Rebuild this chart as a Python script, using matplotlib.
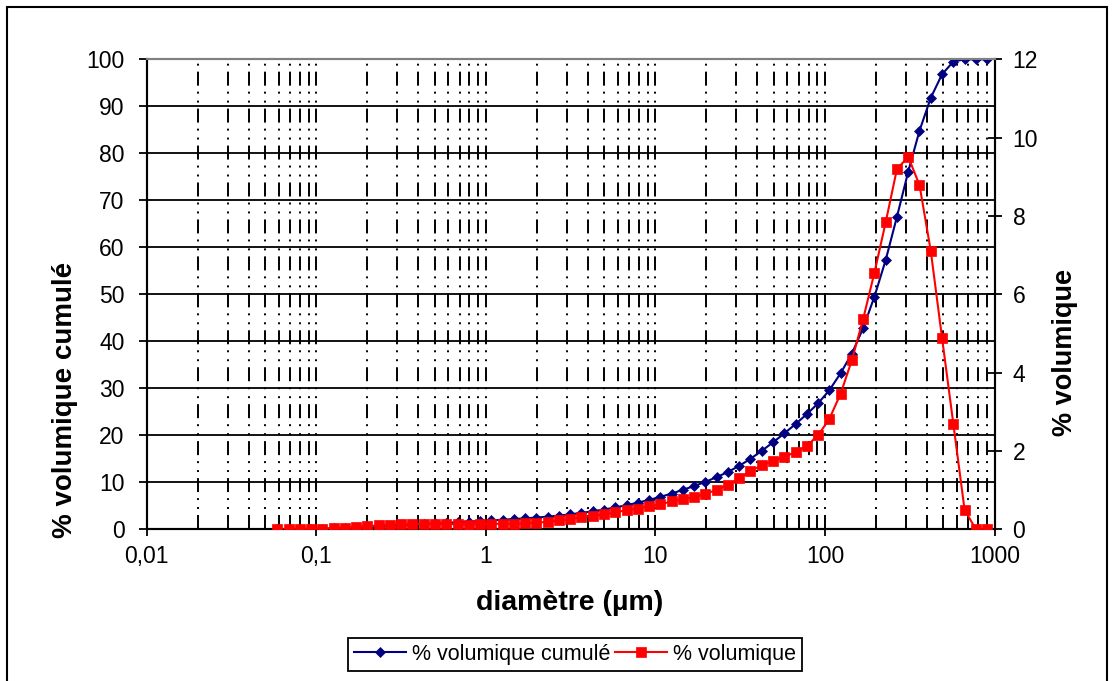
import matplotlib
matplotlib.use('Agg')
import matplotlib.pyplot as plt
import matplotlib.ticker as ticker
from matplotlib.patches import Rectangle

plt.rcParams['font.family'] = ['Liberation Sans', 'DejaVu Sans']

# particle size classes (um)
diametre = [0.0589, 0.0686, 0.0800, 0.0932, 0.1086, 0.1265, 0.1475, 0.1718, 0.2002, 0.2334,
            0.2720, 0.3170, 0.3694, 0.4304, 0.5016, 0.5845, 0.6811, 0.7937, 0.9250, 1.078,
            1.256, 1.464, 1.706, 1.988, 2.317, 2.700, 3.146, 3.666, 4.272, 4.979,
            5.801, 6.761, 7.878, 9.181, 10.70, 12.47, 14.53, 16.93, 19.73, 22.99,
            26.79, 31.22, 36.38, 42.40, 49.41, 57.58, 67.10, 78.19, 91.12, 106.2,
            123.7, 144.2, 168.0, 195.8, 228.2, 265.9, 309.9, 361.1, 420.8, 490.4,
            571.5, 666.0, 776.1, 904.4]

# % volumique cumule (left axis)
cumule = [0.0, 0.02, 0.05, 0.09, 0.14, 0.20, 0.27, 0.36, 0.46, 0.57,
          0.69, 0.82, 0.96, 1.10, 1.24, 1.37, 1.50, 1.62, 1.75, 1.89,
          2.03, 2.18, 2.33, 2.50, 2.69, 2.92, 3.18, 3.49, 3.83, 4.21,
          4.64, 5.13, 5.66, 6.25, 6.9, 7.6, 8.4, 9.2, 10.1, 11.1,
          12.2, 13.5, 15.0, 16.7, 18.5, 20.4, 22.4, 24.5, 26.8, 29.6,
          33.2, 37.4, 42.8, 49.5, 57.3, 66.5, 76.1, 84.8, 91.8, 96.8,
          99.5, 100, 100, 100]

# % volumique (right axis)
volumique = [0.00, 0.00, 0.01, 0.01, 0.01, 0.03, 0.04, 0.07, 0.08, 0.10,
             0.12, 0.13, 0.14, 0.14, 0.14, 0.13, 0.13, 0.12, 0.13, 0.14,
             0.14, 0.14, 0.15, 0.17, 0.19, 0.23, 0.26, 0.31, 0.34, 0.38,
             0.43, 0.49, 0.53, 0.59, 0.64, 0.71, 0.77, 0.82, 0.90, 1.01,
             1.13, 1.30, 1.49, 1.63, 1.75, 1.85, 1.97, 2.13, 2.40, 2.82,
             3.46, 4.32, 5.37, 6.55, 7.84, 9.20, 9.51, 8.79, 7.11, 4.89,
             2.70, 0.50, 0.00, 0.00]

x_ticks = [0.01, 0.1, 1, 10, 100, 1000]
y1_ticks = list(range(0, 101, 10))
y2_ticks = list(range(0, 13, 2))

W, H = 1115, 681
fig = plt.figure(figsize=(W / 100, H / 100), dpi=100)
ax1 = fig.add_axes([146.7 / W, 1 - 529.3 / H, (994.5 - 146.7) / W, 470 / H])
ax2 = ax1.twinx()

l1, = ax1.plot(diametre, cumule, color='#000080', lw=1.5, marker='D', ms=5.5,
               mec='#000080', mew=0.5, zorder=3)
l2, = ax2.plot(diametre, volumique, color='#ff0000', lw=1.5, marker='s', ms=7,
               mec='#ff0000', mew=0.5, zorder=3)

ax1.set_xscale('log')
ax1.set_xlim(0.01, 1000)
ax1.set_ylim(0, 100)
ax2.set_ylim(0, 12)
ax1.set_xticks(x_ticks)
ax1.xaxis.set_minor_locator(ticker.LogLocator(base=10, subs=range(2, 10)))
ax1.xaxis.set_major_formatter(ticker.FuncFormatter(lambda v, p: ('%g' % v).replace('.', ',')))
ax1.xaxis.set_minor_formatter(ticker.NullFormatter())
ax1.set_yticks(y1_ticks)
ax2.set_yticks(y2_ticks)

# grid: dash-dot-dot verticals, solid horizontals
ax1.grid(which='both', axis='x', color='black', lw=1.4,
         linestyle=(0, (7.2, 3.1, 1.0, 3.6, 1.0, 3.1)))
ax1.grid(which='major', axis='y', color='black', lw=1.3, linestyle='-')
ax1.yaxis.get_gridlines()[-1].set_visible(False)

ax1.tick_params(axis='x', which='major', direction='out', length=5, width=1.3,
                labelsize=16.5, pad=6)
ax1.tick_params(axis='x', which='minor', length=0)
ax1.tick_params(axis='y', direction='out', length=6, width=1.3, labelsize=16.5, pad=10)
ax2.tick_params(axis='y', direction='inout', length=10, width=1.3, labelsize=16.5, pad=8)

for ax in (ax1, ax2):
    for s in ('left', 'right', 'bottom'):
        ax.spines[s].set_color('black')
        ax.spines[s].set_linewidth(1.5)
    ax.spines['top'].set_color('#808080')
    ax.spines['top'].set_linewidth(1.5)

fig.text(65 / W, 1 - 400 / H, '% volumique cumulé', rotation=90, ha='center', va='center',
         fontsize=20, fontweight='bold')
fig.text(1065 / W, 1 - 353 / H, '% volumique', rotation=90, ha='center', va='center',
         fontsize=19.5, fontweight='bold')
fig.text(570 / W, 1 - 603 / H, 'diamètre (µm)', ha='center', va='center',
         fontsize=20.5, fontweight='bold')

leg = fig.legend([l1, l2], ['% volumique cumulé', '% volumique'], loc='center',
                 bbox_to_anchor=(575 / W, 1 - 654.5 / H), ncol=2, fontsize=15.5,
                 frameon=True, fancybox=False, edgecolor='black', framealpha=1,
                 handlelength=2.4, handletextpad=0.3, columnspacing=0.2, borderpad=0.3)
leg.get_frame().set_linewidth(1.3)

# outer chart border
fig.add_artist(Rectangle((7 / W, -0.05), 1100 / W, 1.05 - 7 / H, transform=fig.transFigure,
                         fill=False, ec='black', lw=1.5))

plt.savefig('out.png', dpi=100)
